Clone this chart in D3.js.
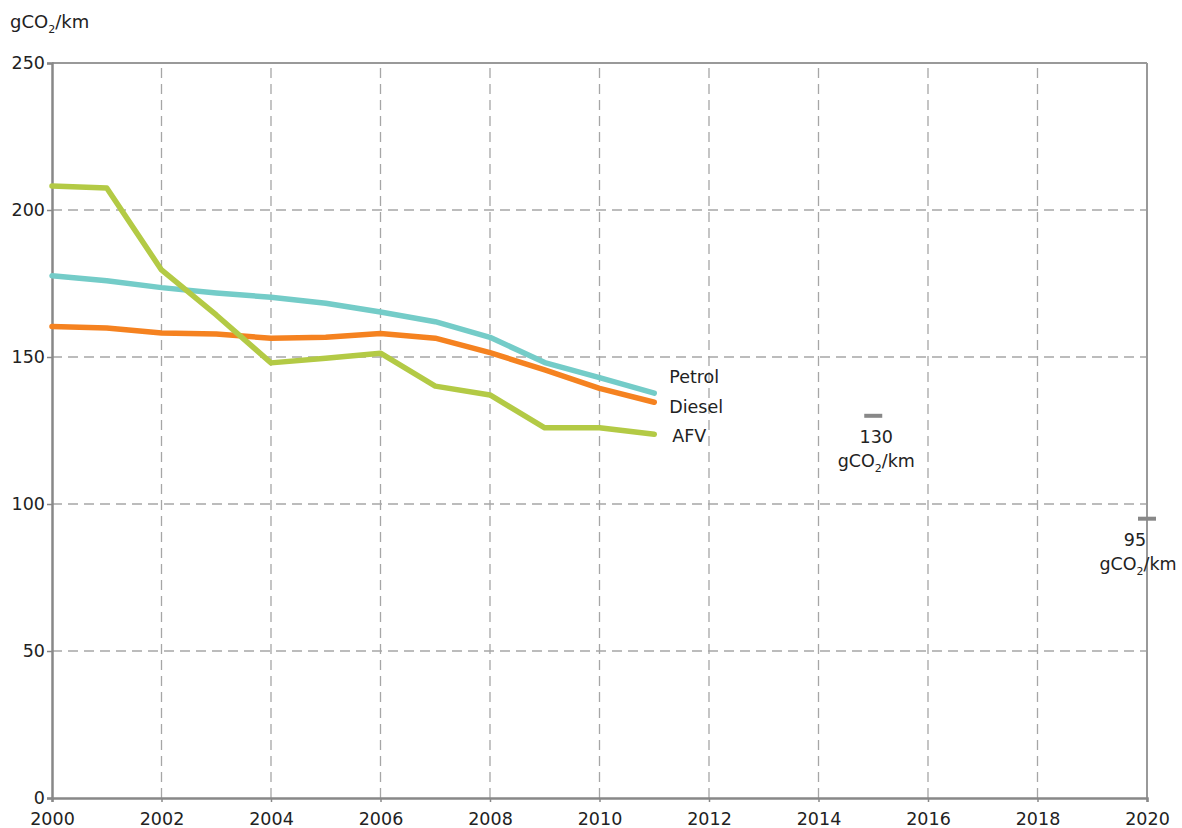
<!DOCTYPE html>
<html lang="en">
	<head>
		<meta charset="utf-8">
		<title>CO2 emissions of new cars</title>
		<script type="text/javascript" src="https://cdn.jsdelivr.net/npm/d3@7"></script>
		<style type="text/css">
			body { margin: 0; background: #fff; }
			text { font-family: "DejaVu Sans", Verdana, sans-serif; fill: #222; }
		</style>
	</head>
	<body>
		<script type="text/javascript">
			//Width and height
			var w = 1182;
			var h = 828;
			var margin = { top: 63, right: 35, bottom: 30, left: 52 };

			var years = [2000, 2001, 2002, 2003, 2004, 2005, 2006, 2007, 2008, 2009, 2010, 2011];
			var petrol = [177.6, 175.9, 173.6, 171.8, 170.3, 168.3, 165.3, 162.0, 156.7, 148.1, 143.0, 137.7];
			var diesel = [160.4, 159.9, 158.2, 157.8, 156.4, 156.7, 158.0, 156.4, 151.5, 145.6, 139.3, 134.6];
			var afv = [208.2, 207.5, 179.6, 164.3, 148.0, 149.6, 151.3, 140.1, 137.1, 125.9, 125.9, 123.7];
			var seriesNames = ["Petrol", "Diesel", "AFV"];
			var seriesColors = ["#74ccc8", "#f58220", "#b3ca45"];
			var xTicks = [2000, 2002, 2004, 2006, 2008, 2010, 2012, 2014, 2016, 2018, 2020];
			var yTicks = [0, 50, 100, 150, 200, 250];
			var targetYears = [2015, 2020];
			var targetValues = [130, 95];

			var fs = "17.5px";

			var xScale = d3.scaleLinear()
							.domain([2000, 2020])
							.range([margin.left, w - margin.right]);
			var yScale = d3.scaleLinear()
							.domain([0, 250])
							.range([h - margin.bottom, margin.top]);

			//Create SVG element
			var svg = d3.select("body")
						.append("svg")
						.attr("width", w)
						.attr("height", h);

			//Grid lines
			svg.selectAll("line.vgrid")
			   .data(xTicks.slice(1, -1))
			   .enter()
			   .append("line")
			   .attr("x1", function(d) { return xScale(d); })
			   .attr("x2", function(d) { return xScale(d); })
			   .attr("y1", yScale(0))
			   .attr("y2", yScale(250))
			   .attr("stroke", "#a6a6a6")
			   .attr("stroke-width", 1.3)
			   .attr("stroke-dasharray", "10,6");

			svg.selectAll("line.hgrid")
			   .data(yTicks.slice(1, -1))
			   .enter()
			   .append("line")
			   .attr("x1", xScale(2000))
			   .attr("x2", xScale(2020))
			   .attr("y1", function(d) { return yScale(d); })
			   .attr("y2", function(d) { return yScale(d); })
			   .attr("stroke", "#a6a6a6")
			   .attr("stroke-width", 1.3)
			   .attr("stroke-dasharray", "10,6");

			//Frame: top and right
			svg.append("line")
			   .attr("x1", xScale(2000)).attr("x2", xScale(2020))
			   .attr("y1", yScale(250)).attr("y2", yScale(250))
			   .attr("stroke", "#999").attr("stroke-width", 2);
			svg.append("line")
			   .attr("x1", xScale(2020)).attr("x2", xScale(2020))
			   .attr("y1", yScale(0)).attr("y2", yScale(250))
			   .attr("stroke", "#999").attr("stroke-width", 2);

			//Axes
			var xAxis = d3.axisBottom(xScale)
						  .tickValues(xTicks)
						  .tickFormat(d3.format("d"))
						  .tickSize(4)
						  .tickPadding(11);
			var yAxis = d3.axisLeft(yScale)
						  .tickValues(yTicks)
						  .tickSize(5)
						  .tickPadding(2);

			var gx = svg.append("g")
						.attr("transform", "translate(0," + yScale(0) + ")")
						.call(xAxis);
			var gy = svg.append("g")
						.attr("transform", "translate(" + xScale(2000) + ",0)")
						.call(yAxis);

			[gx, gy].forEach(function(g) {
				g.select(".domain").attr("stroke", "#888").attr("stroke-width", 2.5);
				g.selectAll(".tick line").attr("stroke", "#888").attr("stroke-width", 1.5);
				g.selectAll(".tick text")
				 .attr("font-family", "DejaVu Sans, Verdana, sans-serif")
				 .attr("font-size", fs)
				 .attr("fill", "#222");
			});
			gy.selectAll(".tick text").attr("dy", "0.3em");

			//Axis title
			var title = svg.append("text")
						   .attr("x", 10)
						   .attr("y", 28)
						   .attr("font-size", "18px");
			title.append("tspan").text("gCO");
			title.append("tspan").text("2").attr("font-size", "11px").attr("dy", 5);
			title.append("tspan").text("/km").attr("dy", -5);

			//Lines
			var dataset = [petrol, diesel, afv];
			var line = d3.line()
						 .x(function(d, i) { return xScale(years[i]); })
						 .y(function(d) { return yScale(d); });

			svg.selectAll("path.series")
			   .data(dataset)
			   .enter()
			   .append("path")
			   .attr("d", line)
			   .attr("fill", "none")
			   .attr("stroke", function(d, i) { return seriesColors[i]; })
			   .attr("stroke-width", 5.5)
			   .attr("stroke-linecap", "round")
			   .attr("stroke-linejoin", "round");

			//Series labels
			var labelDy = [-10, 11, 8];
			var labelDx = [15, 15, 18];
			svg.selectAll("text.series")
			   .data(dataset)
			   .enter()
			   .append("text")
			   .text(function(d, i) { return seriesNames[i]; })
			   .attr("x", function(d, i) { return xScale(2011) + labelDx[i]; })
			   .attr("y", function(d, i) { return yScale(d[d.length - 1]) + labelDy[i]; })
			   .attr("font-size", fs);

			//Targets
			targetYears.forEach(function(yr, i) {
				var cx = xScale(yr);
				var cy = yScale(targetValues[i]);
				svg.append("rect")
				   .attr("x", cx - 9)
				   .attr("y", cy - 2)
				   .attr("width", 18)
				   .attr("height", 4)
				   .attr("fill", "#888");
				var lx = i === 0 ? cx + 3 : cx - 12;
				var lx2 = i === 0 ? cx + 3 : cx - 9;
				svg.append("text")
				   .text(targetValues[i])
				   .attr("x", lx)
				   .attr("y", cy + 27)
				   .attr("text-anchor", "middle")
				   .attr("font-size", fs);
				var t = svg.append("text")
						   .attr("x", lx2)
						   .attr("y", cy + 51)
						   .attr("text-anchor", "middle")
						   .attr("font-size", fs);
				t.append("tspan").text("gCO");
				t.append("tspan").text("2").attr("font-size", "11px").attr("dy", 5);
				t.append("tspan").text("/km").attr("dy", -5);
			});
		</script>
	</body>
</html>
